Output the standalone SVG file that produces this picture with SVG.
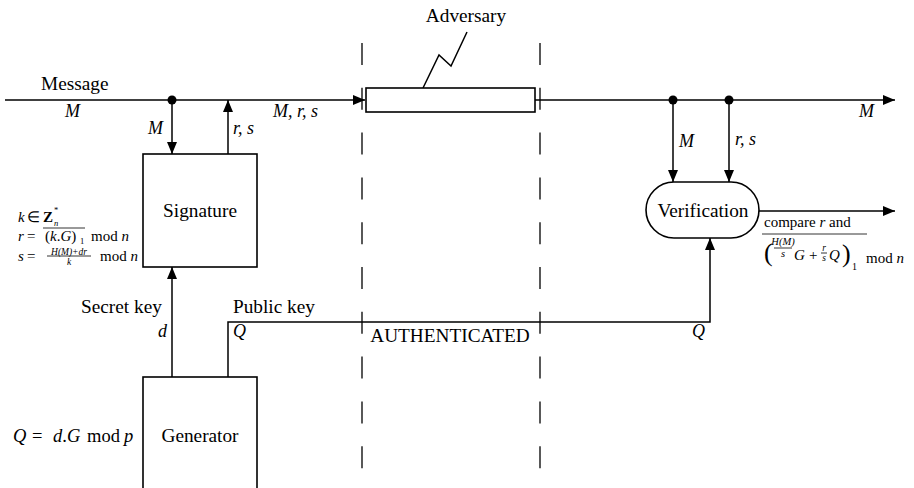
<svg xmlns="http://www.w3.org/2000/svg" width="914" height="488" viewBox="0 0 914 488">
  <style>
    text { font-family: "Liberation Serif", "Times New Roman", serif; fill: #000; }
    .lbl { font-size: 19.3px; }
    .m { font-size: 18px; font-style: italic; }
    .f { font-size: 15px; }
    .fs { font-size: 10px; }
    .i { font-style: italic; }
    .ln { stroke: #000; stroke-width: 1.5; fill: none; }
    .box { stroke: #000; stroke-width: 1.6; fill: #fff; }
    .dash { stroke: #000; stroke-width: 1.3; stroke-dasharray: 22 22.8; fill: none; }
    .thin { stroke: #000; stroke-width: 0.8; fill: none; }
  </style>
  <defs>
    <marker id="arr" viewBox="0 0 12 10" refX="12" refY="5" markerWidth="12" markerHeight="10" markerUnits="userSpaceOnUse" orient="auto">
      <path d="M0,0 L12,5 L0,10 Z" fill="#000"/>
    </marker>
  </defs>

  <!-- boundary of the authenticated channel -->
  <g id="boundary">
    <line class="dash" x1="362" y1="43" x2="362" y2="470"/>
    <line class="dash" x1="540" y1="43" x2="540" y2="470"/>
  </g>

  <!-- connectors -->
  <g id="connectors">
    <line class="ln" x1="5" y1="100" x2="365" y2="100" marker-end="url(#arr)"/>
    <line class="ln" x1="535" y1="100" x2="895" y2="100" marker-end="url(#arr)"/>
    <line class="ln" x1="172" y1="100" x2="172" y2="154" marker-end="url(#arr)"/>
    <line class="ln" x1="228" y1="154" x2="228" y2="100" marker-end="url(#arr)"/>
    <line class="ln" x1="172" y1="377" x2="172" y2="267" marker-end="url(#arr)"/>
    <polyline class="ln" points="228,377 228,322 710,322 710,238" marker-end="url(#arr)"/>
    <line class="ln" x1="673" y1="100" x2="673" y2="182" marker-end="url(#arr)"/>
    <line class="ln" x1="729" y1="100" x2="729" y2="182" marker-end="url(#arr)"/>
    <line class="ln" x1="759" y1="211" x2="895" y2="211" marker-end="url(#arr)"/>
    <polyline class="ln" points="423,88 439,55 451,66 467,32"/>
    <circle cx="172" cy="100" r="4.5" fill="#000"/>
    <circle cx="673" cy="100" r="4.5" fill="#000"/>
    <circle cx="729" cy="100" r="4.5" fill="#000"/>
  </g>

  <!-- channel labels -->
  <text class="lbl" x="41" y="90">Message</text>
  <text class="m" x="65" y="117">M</text>
  <text class="m" x="148" y="134">M</text>
  <text class="m" x="233" y="134">r, s</text>
  <text class="m" x="273" y="117">M, r, s</text>
  <text class="m" x="859" y="117">M</text>
  <text class="m" x="679" y="147">M</text>
  <text class="m" x="735" y="145">r, s</text>
  <text class="lbl" x="81" y="313">Secret key</text>
  <text class="m" x="158" y="337">d</text>
  <text class="lbl" x="233" y="313">Public key</text>
  <text class="m" x="233" y="337">Q</text>
  <text class="m" x="692" y="337">Q</text>
  <text class="lbl" x="450" y="342" text-anchor="middle" font-size="18">AUTHENTICATED</text>
  <text class="lbl" x="466" y="22" text-anchor="middle" font-size="18.7">Adversary</text>

  <!-- adversary tap on the channel -->
  <g id="adversary">
    <rect class="box" x="366" y="88" width="169" height="24"/>
  </g>

  <!-- signature block -->
  <g id="signature">
    <rect class="box" x="143" y="154" width="114" height="113"/>
    <text class="lbl" x="200" y="217" text-anchor="middle">Signature</text>
  </g>

  <!-- key generator block -->
  <g id="generator">
    <rect class="box" x="143" y="377" width="114" height="120"/>
    <text class="lbl" x="200" y="442" text-anchor="middle">Generator</text>
  </g>

  <!-- verification block -->
  <g id="verification">
    <rect class="box" x="646" y="182" width="113" height="56" rx="28" ry="28"/>
    <text class="lbl" x="703" y="217" text-anchor="middle">Verification</text>
  </g>

  <!-- signing equations -->
  <g id="sign-eq" class="f">
    <text class="i" x="18" y="222">k</text>
    <text x="27" y="222">∈</text>
    <text x="43" y="222" font-weight="bold">Z</text>
    <text x="54" y="213" font-size="8.5">*</text>
    <text class="i" x="54" y="225.5" font-size="8.5">n</text>

    <text class="i" x="18" y="241">r</text>
    <text x="27" y="241">=</text>
    <text x="45" y="241">(<tspan class="i">k</tspan>.<tspan class="i">G</tspan>)</text>
    <text x="80" y="243.5" font-size="8.5">1</text>
    <text x="91" y="241">mod <tspan class="i">n</tspan></text>
    <line class="thin" x1="43" y1="228" x2="85" y2="228"/>

    <text class="i" x="18" y="261">s</text>
    <text x="27" y="261">=</text>
    <text class="i" x="69" y="254.5" font-size="9.5" text-anchor="middle">H(M)+dr</text>
    <line class="thin" x1="47" y1="256" x2="91" y2="256"/>
    <text class="i" x="69" y="265" font-size="9.5" text-anchor="middle">k</text>
    <text x="100" y="261">mod <tspan class="i">n</tspan></text>
  </g>

  <!-- key equation -->
  <g id="key-eq" font-size="18.5">
    <text class="i" x="13" y="442">Q</text>
    <text x="32" y="442">=</text>
    <text x="53" y="442"><tspan class="i">d</tspan>.<tspan class="i">G</tspan></text>
    <text x="87" y="442">mod</text>
    <text class="i" x="124" y="442">p</text>
  </g>

  <!-- verification test -->
  <g id="verify-eq" class="f">
    <text x="764" y="227">compare <tspan class="i">r</tspan> and</text>
    <line class="thin" x1="762" y1="234" x2="867" y2="234"/>
    <text x="764" y="261" font-size="26">(</text>
    <text class="i" x="783" y="245" font-size="10.5" text-anchor="middle">H(M)</text>
    <line class="thin" x1="774" y1="248" x2="792" y2="248"/>
    <text class="i" x="783" y="257" font-size="10.5" text-anchor="middle">s</text>
    <text class="i" x="794" y="260">G</text>
    <text x="809" y="260">+</text>
    <text class="i" x="824" y="251" font-size="9.5" text-anchor="middle">r</text>
    <line class="thin" x1="821" y1="253" x2="827" y2="253"/>
    <text class="i" x="824" y="261" font-size="9.5" text-anchor="middle">s</text>
    <text class="i" x="829" y="260">Q</text>
    <text x="842" y="262" font-size="26">)</text>
    <text class="fs" x="852" y="270">1</text>
    <text x="866" y="263">mod <tspan class="i">n</tspan></text>
  </g>
</svg>
